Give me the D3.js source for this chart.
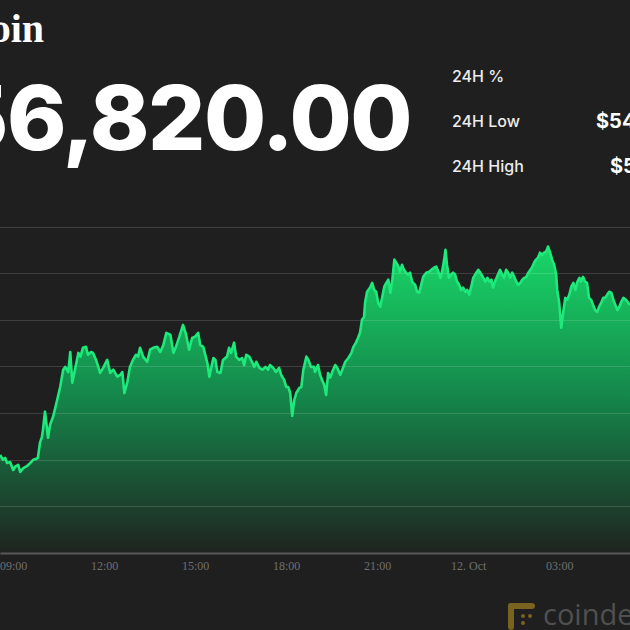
<!DOCTYPE html>
<html><head><meta charset="utf-8">
<script src="https://cdn.jsdelivr.net/npm/d3@7"></script>
<style>
html,body{margin:0;padding:0;background:#1f1f1f;}
svg{display:block;}
</style></head>
<body>
<svg id="chart" width="630" height="630"></svg>
<script>
// ---- data ----
const title = "Bitcoin";
const currentPrice = "$56,820.00";
const statLabels = ["24H %", "24H Low", "24H High"];
const statValues = ["+3.27%", "$54,870.00", "$57,285.00"];
const times = [
"08:34","08:40","08:44","08:48","08:54","09:00","09:04","09:10","09:14","09:20",
"09:28","09:34","09:40","09:46","09:49","09:53","09:57","09:59","10:03","10:09",
"10:13","10:19","10:27","10:33","10:39","10:43","10:49","10:53","10:57","11:03",
"11:09","11:13","11:18","11:24","11:28","11:34","11:38","11:44","11:52","11:58",
"12:06","12:12","12:18","12:26","12:32","12:36","12:40","12:46","12:51","12:57",
"13:03","13:07","13:11","13:17","13:25","13:31","13:37","13:45","13:51","13:57",
"14:03","14:11","14:17","14:22","14:30","14:36","14:42","14:48","14:54","15:00",
"15:06","15:10","15:16","15:24","15:28","15:32","15:36","15:40","15:44","15:50",
"15:55","16:03","16:07","16:11","16:17","16:21","16:27","16:33","16:37","16:41",
"16:47","16:53","16:57","17:01","17:07","17:13","17:19","17:24","17:28","17:34",
"17:40","17:46","17:50","17:56","18:00","18:04","18:08","18:12","18:16","18:20",
"18:26","18:30","18:34","18:40","18:44","18:49","18:55","18:57","19:03","19:07",
"19:11","19:15","19:19","19:23","19:27","19:31","19:37","19:41","19:47","19:51",
"19:57","20:03","20:09","20:13","20:18","20:22","20:26","20:30","20:34","20:36",
"20:40","20:46","20:50","20:54","20:58","21:02","21:06","21:10","21:14","21:18",
"21:22","21:26","21:30","21:34","21:38","21:42","21:45","21:49","21:53","21:57",
"22:01","22:05","22:09","22:15","22:19","22:23","22:27","22:31","22:37","22:43",
"22:47","22:53","22:57","23:01","23:05","23:09","23:13","23:15","23:18","23:22",
"23:26","23:30","23:34","23:38","23:42","23:46","23:50","23:54","23:58","00:02",
"00:06","00:10","00:16","00:20","00:24","00:30","00:34","00:38","00:42","00:46",
"00:49","00:53","00:57","01:03","01:07","01:11","01:15","01:19","01:23","01:27",
"01:31","01:35","01:39","01:43","01:47","01:51","01:55","01:59","02:03","02:07",
"02:11","02:14","02:18","02:22","02:26","02:30","02:34","02:38","02:42","02:46",
"02:50","02:54","02:56","03:00","03:04","03:08","03:12","03:16","03:20","03:24",
"03:28","03:32","03:36","03:40","03:43","03:47","03:51","03:55","03:59","04:03",
"04:07","04:11","04:15","04:19","04:23","04:27","04:31","04:35","04:39","04:43",
"04:47","04:51","04:55","04:59","05:03","05:07","05:12","05:20"
];
const prices = [
55050,55000,55020,54965,54975,54890,54925,54945,54870,54910,
54935,54965,55000,55010,55020,55180,55245,55320,55515,55235,
55375,55460,55640,55780,55965,55995,55940,56155,55825,55985,
56145,56105,56200,56210,56125,56155,56145,56070,55930,55985,
56070,55930,55965,55890,55910,55940,55715,55835,55995,56070,
56125,56105,56200,56105,56050,56180,56200,56210,56155,56230,
56360,56340,56145,56210,56340,56445,56340,56180,56305,56320,
56360,56230,56210,56040,55890,55995,56090,56070,55940,55930,
56070,56105,56200,56145,56255,56105,56070,56090,56015,56125,
56105,56040,55995,56050,55985,55965,55995,55965,56015,55985,
55940,55985,55910,55855,55780,55780,55715,55470,55640,55715,
55770,55780,55965,56105,56070,55995,55995,55940,56015,55910,
55855,55805,55695,55930,55880,55940,56015,55985,55910,55965,
56050,56090,56145,56210,56255,56305,56360,56500,56530,56680,
56800,56845,56895,56820,56800,56680,56640,56745,56855,56895,
56930,56790,56930,57145,57110,57070,57015,57090,57035,57005,
56985,57005,56910,56875,56800,56790,56875,56960,57005,57015,
57035,57060,57070,57015,56950,57035,57165,57250,57090,56950,
56985,57005,56985,56910,56875,56820,56845,56800,56820,56770,
56855,56950,57005,57035,57005,56950,56910,56950,56910,56930,
56845,56910,56960,57035,56985,56950,57035,57005,56950,57005,
56960,56910,56875,56895,56930,56950,56960,57005,57035,57070,
57120,57145,57165,57220,57195,57220,57230,57285,57220,57145,
57090,56985,56820,56680,56415,56585,56735,56715,56770,56855,
56895,56820,56910,56950,56910,56960,56910,56895,56735,56715,
56660,56605,56585,56640,56680,56735,56735,56770,56800,56790,
56715,56660,56605,56640,56695,56735,56715,56660
];
const gridValues = [54500, 55000, 55500, 56000, 56500, 57000, 57500];
const yMin = 54000, yMax = 57500;
const tickTimes = ["09:00","12:00","15:00","18:00","21:00","00:00","03:00"];
const tickLabels = ["09:00","12:00","15:00","18:00","21:00","12. Oct","03:00"];

// ---- helpers ----
function toDates(list) {
  const out = []; let day = 11, prev = -1;
  list.forEach(s => {
    const [h, m] = s.split(":").map(Number);
    const mins = h * 60 + m;
    if (prev >= 0 && mins < prev) day += 1;
    prev = mins;
    out.push(new Date(2021, 9, day, h, m));
  });
  return out;
}
const dates = toDates(times);
const data = dates.map((d, i) => ({ t: d, v: prices[i] }));
const tickDates = toDates(tickTimes);

const svg = d3.select("#chart");
const W = 630;
svg.append("rect").attr("width", 630).attr("height", 630).attr("fill", "#1f1f1f");

const x = d3.scaleTime().domain(d3.extent(dates)).range([0, W]);
const y = d3.scaleLinear().domain([yMin, yMax]).range([553, 226.5]);

// gradient
const defs = svg.append("defs");
const grad = defs.append("linearGradient").attr("id", "fillGrad")
  .attr("gradientUnits", "userSpaceOnUse")
  .attr("x1", 0).attr("x2", 0).attr("y1", 245).attr("y2", 553);
grad.append("stop").attr("offset", 0).attr("stop-color", "#18d868");
grad.append("stop").attr("offset", 0.5).attr("stop-color", "#15854a");
grad.append("stop").attr("offset", 1).attr("stop-color", "#1f2420");

const area = d3.area().x(d => x(d.t)).y0(y(yMin)).y1(d => y(d.v));
const line = d3.line().x(d => x(d.t)).y(d => y(d.v));

svg.append("path").datum(data).attr("d", area).attr("fill", "url(#fillGrad)");

// gridlines
svg.append("g").selectAll("line").data(gridValues).join("line")
  .attr("x1", 0).attr("x2", W)
  .attr("y1", d => Math.round(y(d)) + 0.5).attr("y2", d => Math.round(y(d)) + 0.5)
  .attr("stroke", "rgba(255,255,255,0.14)").attr("stroke-width", 1);

svg.append("path").datum(data).attr("d", line)
  .attr("fill", "none").attr("stroke", "#1eea7c").attr("stroke-width", 2.6)
  .attr("stroke-linejoin", "round");

// x axis
const xAxis = d3.axisBottom(x).tickValues(tickDates)
  .tickFormat((d, i) => tickLabels[i]).tickSize(0).tickSizeOuter(0).tickPadding(8);
const gx = svg.append("g").attr("transform", `translate(0,${y(yMin)})`).call(xAxis);
gx.select(".domain").attr("stroke", "#585858").attr("stroke-width", 2);
gx.selectAll("text").attr("fill", "#707070")
  .style("font-family", "'Liberation Serif', 'DejaVu Serif', serif").style("font-size", "12px");

// header texts
svg.append("text").attr("x", 44).attr("y", 42).attr("text-anchor", "end")
  .attr("fill", "#ffffff").style("font-family", "'Liberation Serif', serif")
  .style("font-weight", "700").style("font-size", "40px").text(title);

svg.append("text").attr("x", 411).attr("y", 150).attr("text-anchor", "end")
  .attr("fill", "#ffffff").style("font-family", "Inter, 'Liberation Sans', sans-serif")
  .style("font-weight", "800").style("font-size", "90px").style("letter-spacing", "-1.5px")
  .text(currentPrice);

const statY = [82, 127, 172];
svg.append("g").selectAll("text").data(statLabels).join("text")
  .attr("x", 452).attr("y", (d, i) => statY[i])
  .attr("fill", "#ececec").style("font-family", "Inter, 'Liberation Sans', sans-serif")
  .style("font-weight", "500").style("font-size", "16px").text(d => d);

const statX = [640, 596, 610];
svg.append("g").selectAll("text").data(statValues).join("text")
  .attr("x", (d, i) => statX[i]).attr("y", (d, i) => statY[i] + 1)
  .attr("fill", (d, i) => i === 0 ? "#1eea7c" : "#ffffff")
  .style("font-family", "Inter, 'Liberation Sans', sans-serif")
  .style("font-weight", "700").style("font-size", "20px").text(d => d);

// coindesk logo
const logo = svg.append("g").attr("fill", "#7a6220");
logo.append("rect").attr("x", 508).attr("y", 603).attr("width", 27).attr("height", 6).attr("rx", 3);
logo.append("rect").attr("x", 508).attr("y", 603).attr("width", 6).attr("height", 27).attr("rx", 3);
logo.append("circle").attr("cx", 523).attr("cy", 616).attr("r", 2);
logo.append("circle").attr("cx", 530).attr("cy", 616).attr("r", 2);
logo.append("circle").attr("cx", 523).attr("cy", 623).attr("r", 2);
svg.append("text").attr("x", 543).attr("y", 625).attr("fill", "#505050")
  .style("font-family", "'Open Sans', 'Noto Sans', sans-serif").style("font-weight", "400")
  .style("font-size", "29px").text("coindesk");
</script>
</body></html>
